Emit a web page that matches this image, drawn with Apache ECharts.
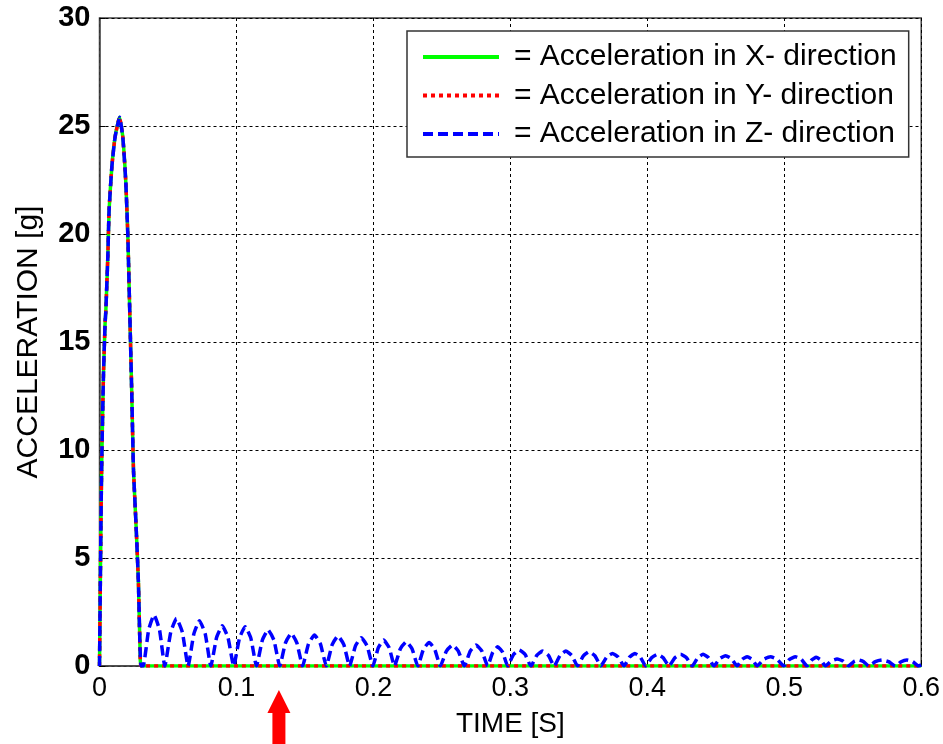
<!DOCTYPE html>
<html>
<head>
<meta charset="utf-8">
<script src="https://cdn.jsdelivr.net/npm/echarts@6/dist/echarts.min.js"></script>
<style>
html,body{margin:0;padding:0;background:#fff;}
#chart{width:943px;height:744px;}
</style>
</head>
<body>
<div id="chart"></div>
<script>
// ---- data ----
const xTicks = [0, 0.1, 0.2, 0.3, 0.4, 0.5, 0.6];
const yTicks = [0, 5, 10, 15, 20, 25, 30];
const seriesNames = ['Acceleration in X- direction', 'Acceleration in Y- direction', 'Acceleration in Z- direction'];

// shared impact pulse (all three directions overlap)
const peakTime = [0, 0.0005, 0.0012, 0.0017, 0.0029, 0.0041, 0.0046, 0.0061, 0.0070, 0.0090, 0.0114, 0.0146, 0.0170, 0.0192, 0.0207, 0.0224, 0.0236, 0.0248, 0.0267, 0.0284, 0.0296, 0.0304];
const peakAcc  = [0, 3.2, 7.4, 9.7, 13.5, 15.9, 16.4, 19.0, 21.1, 23.1, 24.5, 25.4, 24.5, 22.4, 19.9, 15.6, 12.5, 9.1, 6.5, 3.9, 0.8, 0];

// X and Y after the pulse: flat at zero
const xyTailTime = [0.6];
const xyTailAcc  = [0];

// Z after the pulse: decaying arches
const zTailTime = [0.0319,
  0.0359,0.0398,0.0438,0.0477, 0.0520,0.0562,0.0605,0.0647, 0.0689,0.0730,0.0772,0.0813,
  0.0855,0.0897,0.0938,0.0980, 0.1022,0.1063,0.1105,0.1146, 0.1189,0.1231,0.1274,0.1316,
  0.1358,0.1400,0.1441,0.1483, 0.1526,0.1570,0.1613,0.1656, 0.1699,0.1741,0.1784,0.1826,
  0.1869,0.1911,0.1954,0.1996, 0.2036,0.2075,0.2115,0.2154, 0.2197,0.2239,0.2282,0.2324,
  0.2365,0.2407,0.2448,0.2489, 0.2533,0.2577,0.2620,0.2664, 0.2707,0.2749,0.2792,0.2834,
  0.2871,0.2907,0.2944,0.2980, 0.3023,0.3065,0.3108,0.3150, 0.3193,0.3235,0.3278,0.3320,
  0.3363,0.3405,0.3448,0.3490, 0.3533,0.3575,0.3618,0.3660, 0.3703,0.3745,0.3788,0.3830,
  0.3870,0.3909,0.3949,0.3988, 0.4031,0.4073,0.4116,0.4158, 0.4201,0.4243,0.4286,0.4328,
  0.4368,0.4407,0.4447,0.4486, 0.4529,0.4571,0.4614,0.4656, 0.4693,0.4729,0.4766,0.4802,
  0.4851,0.4899,0.4948,0.4996, 0.5039,0.5081,0.5124,0.5166, 0.5200,0.5233,0.5267,0.5300,
  0.5343,0.5385,0.5428,0.5470, 0.5507,0.5543,0.5580,0.5616, 0.5665,0.5713,0.5762,0.5810,
  0.5853,0.5895,0.5938,0.5980, 0.6000];
const zTailAcc = [0,
  1.68,2.36,1.68,0, 1.56,2.20,1.56,0, 1.49,2.10,1.49,0,
  1.32,1.86,1.32,0, 1.29,1.82,1.29,0, 1.19,1.67,1.19,0,
  1.07,1.51,1.07,0, 1.02,1.43,1.02,0, 0.99,1.39,0.99,0,
  0.93,1.31,0.93,0, 0.85,1.20,0.85,0, 0.80,1.12,0.80,0,
  0.77,1.09,0.77,0, 0.69,0.97,0.69,0, 0.69,0.97,0.69,0,
  0.63,0.89,0.63,0, 0.53,0.74,0.53,0, 0.49,0.69,0.49,0,
  0.49,0.69,0.49,0, 0.47,0.66,0.47,0, 0.41,0.58,0.41,0,
  0.41,0.58,0.41,0, 0.38,0.54,0.38,0, 0.38,0.54,0.38,0,
  0.38,0.54,0.38,0, 0.34,0.48,0.34,0, 0.31,0.43,0.31,0,
  0.31,0.43,0.31,0, 0.31,0.43,0.31,0, 0.28,0.40,0.28,0,
  0.23,0.32,0.23,0, 0.20,0.28,0.20,0, 0.20,0.28,0.20,0,
  0.20,0.28,0.20,0, 0.05];

const arrowTime = 0.131;  // red arrow marker under the time axis

// ---- build ----
function pairs(t, v) { return t.map((x, i) => [x, v[i]]); }
const xData = pairs(peakTime.concat(xyTailTime), peakAcc.concat(xyTailAcc));
const yData = pairs(peakTime.concat(xyTailTime), peakAcc.concat(xyTailAcc));
const zData = pairs(peakTime.concat(zTailTime), peakAcc.concat(zTailAcc));

const FONT = 'Arial, "Liberation Sans", sans-serif';
const chart = echarts.init(document.getElementById('chart'), null, {renderer: 'canvas'});

const option = {
  animation: false,
  backgroundColor: '#fff',
  grid: {left: 99.5, right: 20.5, top: 18, bottom: 78, show: true, borderColor: '#444', borderWidth: 1.5, backgroundColor: 'transparent'},
  legend: {
    left: 407, top: 31, orient: 'vertical',
    backgroundColor: '#fff', borderColor: '#333', borderWidth: 1.5, borderRadius: 0,
    padding: [11, 12, 8, 14],
    itemWidth: 76, itemHeight: 14, itemGap: 8.5,
    itemStyle: {opacity: 0},
    lineStyle: {width: 4},
    formatter: '= {name}',
    textStyle: {fontFamily: FONT, fontSize: 30, color: '#000', lineHeight: 30, padding: [0, 0, 0, 10]},
    data: seriesNames
  },
  xAxis: {
    type: 'value', min: xTicks[0], max: xTicks[xTicks.length - 1], interval: 0.1,
    name: 'TIME [S]', nameLocation: 'middle', nameGap: 44,
    nameTextStyle: {fontFamily: FONT, fontSize: 28, color: '#000'},
    axisLine: {show: true, onZero: false, lineStyle: {color: '#444', width: 1.5}},
    axisTick: {show: true, inside: true, length: 6, lineStyle: {color: '#000'}},
    axisLabel: {fontFamily: FONT, fontSize: 27, color: '#000', margin: 9,
      formatter: v => { const f = xTicks.find(t => Math.abs(t - v) < 1e-9); return f === undefined ? '' : String(f); }},
    splitLine: {show: true, lineStyle: {color: '#000', width: 1, type: [3, 3]}}
  },
  yAxis: {
    type: 'value', min: yTicks[0], max: yTicks[yTicks.length - 1], interval: 5,
    name: 'ACCELERATION [g]', nameLocation: 'middle', nameGap: 56,
    nameTextStyle: {fontFamily: FONT, fontSize: 30, color: '#000'},
    axisLine: {show: true, lineStyle: {color: '#444', width: 1.5}},
    axisTick: {show: true, inside: true, length: 6, lineStyle: {color: '#000'}},
    axisLabel: {fontFamily: FONT, fontSize: 29, fontWeight: 'bold', color: '#000', margin: 9},
    splitLine: {show: true, lineStyle: {color: '#000', width: 1, type: [3, 3]}}
  },
  series: [
    {name: seriesNames[0], type: 'line', data: xData, showSymbol: false, symbol: 'none', smooth: 0.15,
     lineStyle: {color: '#00ff00', width: 3.5, type: 'solid'}, itemStyle: {color: '#00ff00'}, z: 2},
    {name: seriesNames[1], type: 'line', data: yData, showSymbol: false, symbol: 'none', smooth: 0.15,
     lineStyle: {color: '#ff0000', width: 3.5, type: [4, 4], cap: 'butt'}, itemStyle: {color: '#ff0000'}, z: 3},
    {name: seriesNames[2], type: 'line', data: zData, showSymbol: false, symbol: 'none', smooth: 0.15,
     lineStyle: {color: '#0000ff', width: 3.5, type: [10, 5], cap: 'butt'}, itemStyle: {color: '#0000ff'}, z: 4}
  ]
};
chart.setOption(option);

// red arrow annotation placed at arrowTime on the time axis
const ax = chart.convertToPixel({xAxisIndex: 0}, arrowTime);
chart.setOption({
  graphic: [{
    type: 'polygon',
    shape: {points: [[ax, 690], [ax + 11.5, 713], [ax + 6.5, 713], [ax + 6.5, 744], [ax - 6.5, 744], [ax - 6.5, 713], [ax - 11.5, 713]]},
    style: {fill: '#ff0000'}
  }]
});
</script>
</body>
</html>
